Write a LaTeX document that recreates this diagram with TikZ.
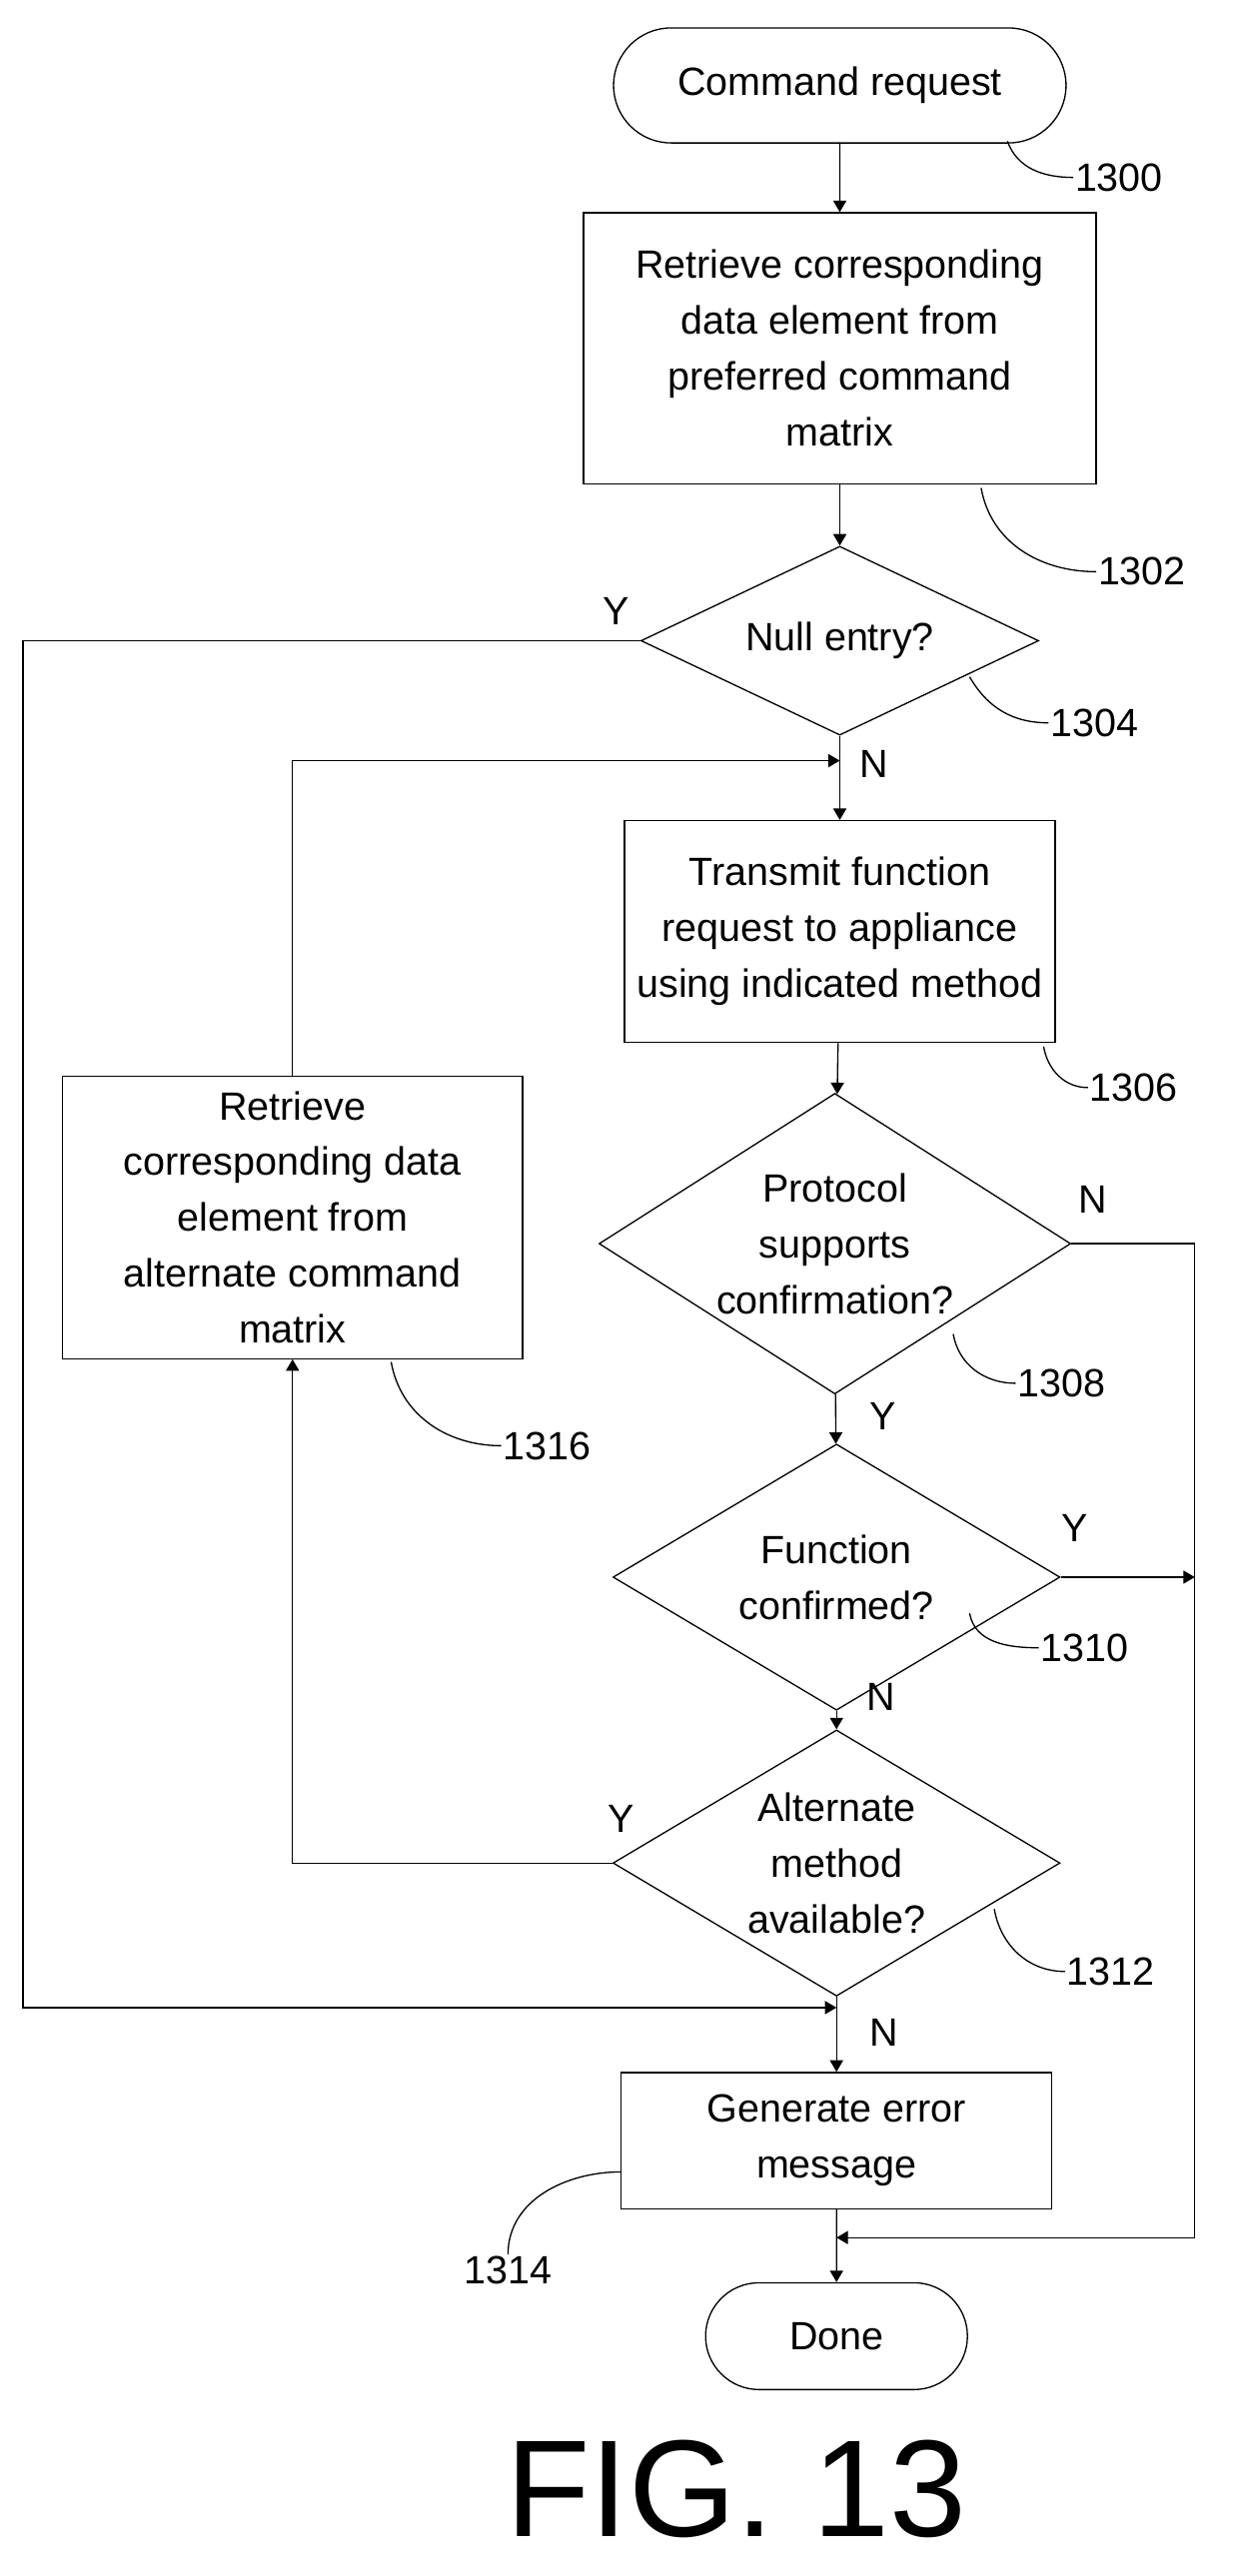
\documentclass[tikz,border=0pt]{standalone}
\usepackage{fontspec}
\setmainfont{Liberation Sans}
\usetikzlibrary{arrows.meta,shapes.geometric,shapes.misc}
\tikzset{%
  tipA/.tip={Triangle[length=7pt,width=8pt]},
  box/.style={draw,thick,align=center,inner sep=2pt},
  pill/.style={draw,thick,rounded rectangle,align=center},
  dec/.style={draw,thick,diamond,inner sep=0pt},
  flow/.style={thick,-tipA},
  lead/.style={thick},
  lbl/.style={inner sep=1pt}
}
\begin{document}
\begin{tikzpicture}[x=1pt,y=-1pt,font=\fontsize{24}{34}\selectfont]
\useasboundingbox (0,0) rectangle (750,1568);
% nodes
\node[pill,minimum width=282,minimum height=70] (start) at (511,52) {Command request};
\node[box,minimum width=312,minimum height=165] (b1302) at (511,212) {Retrieve corresponding\\data element from\\preferred command\\matrix};
\node[dec,minimum width=242,minimum height=115,label={[align=center]center:Null entry?}] (d1304) at (511,390) {};
\node[box,minimum width=262,minimum height=135] (b1306) at (511,567) {Transmit function\\request to appliance\\using indicated method};
\node[dec,minimum width=287,minimum height=183,label={[align=center]center:Protocol\\supports\\confirmation?}] (d1308) at (508,757) {};
\node[dec,minimum width=272,minimum height=162,label={[align=center]center:Function\\confirmed?}] (d1310) at (509,960) {};
\node[dec,minimum width=272,minimum height=162,label={[align=center]center:Alternate\\method\\available?}] (d1312) at (509,1134) {};
\node[box,minimum width=262,minimum height=83] (b1314) at (509,1303) {Generate error\\message};
\node[pill,minimum width=166,minimum height=65] (done) at (509,1422) {Done};
\node[box,minimum width=280,minimum height=172] (b1316) at (178,741) {Retrieve\\corresponding data\\element from\\alternate command\\matrix};
\coordinate (jn) at (511,463);
\coordinate (je) at (509,1222);
\coordinate (jd) at (509,1362);
\coordinate (jr) at (727,960);
% connectors
\draw[flow] (start) -- (b1302);
\draw[flow] (b1302) -- (d1304);
\draw[flow] (d1304) -- (b1306);
\draw[flow] (b1306) -- (d1308);
\draw[flow] (d1308) -- (d1310);
\draw[flow] (d1310) -- (d1312);
\draw[flow] (d1312) -- (b1314);
\draw[flow] (b1314) -- (done);
\draw[flow] (d1304.west) -| (14,1222) -- (je);
\draw[flow] (d1312.west) -| (b1316.south);
\draw[flow] (b1316.north) |- (jn);
\draw[flow] (d1308.east) -| (727,1362) -- (jd);
\draw[flow] (d1310.east) -- (jr);
% branch labels
\node[lbl] (y1) at (375,372) {Y};
\node[lbl] (n1) at (532,465) {N};
\node[lbl] (n2) at (665,730) {N};
\node[lbl] (y2) at (537,862) {Y};
\node[lbl] (y3) at (654,930) {Y};
\node[lbl] (n3) at (536,1033) {N};
\node[lbl] (y4) at (378,1107) {Y};
\node[lbl] (n4) at (538,1237) {N};
% reference numerals
\node[lbl,anchor=west] (r1300) at (653,108) {1300};
\node[lbl,anchor=west] (r1302) at (667,348) {1302};
\node[lbl,anchor=west] (r1304) at (638,440) {1304};
\node[lbl,anchor=west] (r1306) at (662,662) {1306};
\node[lbl,anchor=west] (r1308) at (618,842) {1308};
\node[lbl,anchor=west] (r1310) at (632,1003) {1310};
\node[lbl,anchor=west] (r1312) at (648,1200) {1312};
\node[lbl,anchor=west] (r1316) at (305,880) {1316};
\node[lbl,anchor=east] (r1314) at (337,1382) {1314};
\draw[lead] (613,86) to[out=-70,in=180] (r1300.west);
\draw[lead] (597,297) to[out=-80,in=180] (r1302.west);
\draw[lead] (590,412) to[out=-60,in=180] (r1304.west);
\draw[lead] (635,637) to[out=-80,in=180] (r1306.west);
\draw[lead] (580,812) to[out=-80,in=180] (r1308.west);
\draw[lead] (590,982) to[out=-80,in=180] (r1310.west);
\draw[lead] (605,1162) to[out=-80,in=180] (r1312.west);
\draw[lead] (238,829) to[out=-80,in=180] (r1316.west);
\draw[lead] (378,1322) to[out=180,in=90] (r1314.north);
\node[font=\fontsize{84}{90}\selectfont] (fig) at (448,1515) {FIG. 13};
\end{tikzpicture}
\end{document}
